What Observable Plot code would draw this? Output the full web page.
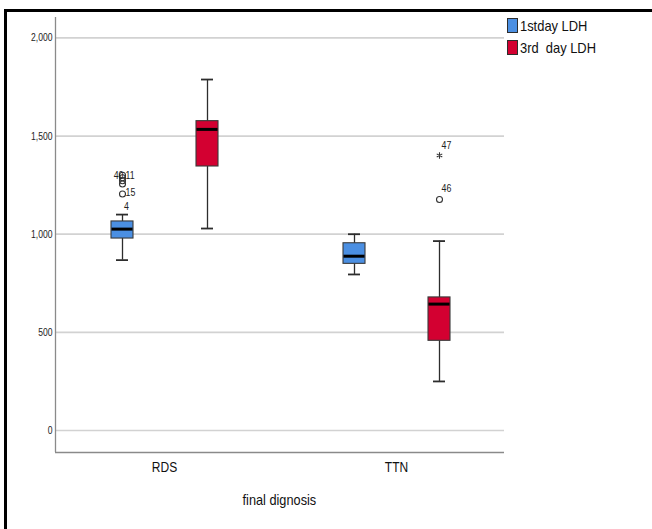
<!DOCTYPE html>
<html>
<head>
<meta charset="utf-8">
<script src="https://cdn.jsdelivr.net/npm/d3@7"></script>
<script src="https://cdn.jsdelivr.net/npm/@observablehq/plot@0.6"></script>
<style>
  html, body { margin: 0; padding: 0; background: #fff; }
  #wrap { position: relative; width: 652px; height: 529px; overflow: hidden; font-family: "Liberation Sans", Arial, sans-serif; }
  #border { position: absolute; left: 4px; top: 9px; width: 660px; height: 540px; border-left: 3px solid #000; border-top: 3px solid #000; }
  .layer { position: absolute; left: 0; top: 0; }
  #legend { position: absolute; left: 507px; top: 18px; font-size: 15px; color: #111; }
  .li { position: relative; height: 22px; }
  .sw { position: absolute; left: 0; top: 0; width: 9px; height: 13px; border: 1px solid #2d2d2d; }
  .lt { position: absolute; left: 13px; top: -1px; white-space: pre; transform: scaleX(0.86); transform-origin: 0 0; line-height: 17px; }
  #xlabel { position: absolute; left: 55px; width: 449px; top: 491px; text-align: center; font-size: 15px; color: #111; }
  #xlabel span { display: inline-block; transform: scaleX(0.85); }
</style>
</head>
<body>
<div id="wrap">
  <div id="border"></div>
  <div id="bg" class="layer"></div>
  <div id="fg" class="layer"></div>
  <div id="legend"></div>
  <div id="xlabel"><span></span></div>
</div>
<script>
// ---- data ----
const diagnoses = ["RDS", "TTN"];
const series = ["1stday LDH", "3rd  day LDH"];
const colors = ["#4b8fe2", "#d30031"];
const yTicks = [0, 500, 1000, 1500, 2000];
const xTitle = "final dignosis";

// per box, order: RDS-1st, RDS-3rd, TTN-1st, TTN-3rd
const boxDiag   = ["RDS", "RDS", "TTN", "TTN"];
const boxSeries = ["1stday LDH", "3rd  day LDH", "1stday LDH", "3rd  day LDH"];
const whiskerLow  = [868, 1029, 795, 250];
const q1          = [978, 1345, 849, 457];
const median      = [1026, 1534, 888, 644];
const q3          = [1065, 1576, 954, 678];
const whiskerHigh = [1100, 1788, 1000, 965];

// outliers (circles) and extremes (stars)
const outDiag   = ["RDS", "RDS", "RDS", "RDS", "RDS", "TTN"];
const outSeries = ["1stday LDH", "1stday LDH", "1stday LDH", "1stday LDH", "1stday LDH", "3rd  day LDH"];
const outValue  = [1300, 1288, 1272, 1256, 1205, 1177];
const extDiag = ["TTN"], extSeries = ["3rd  day LDH"], extValue = [1401];

// case labels
const labLeft  = {text: ["40"], diag: ["RDS"], ser: ["1stday LDH"], v: [1298]};
const labRight = {text: ["11", "15"], diag: ["RDS", "RDS"], ser: ["1stday LDH", "1stday LDH"], v: [1298, 1212]};
const labBelow = {text: ["4"], diag: ["RDS"], ser: ["1stday LDH"], v: [1141]};
const labAbove = {text: ["47", "46"], diag: ["TTN", "TTN"], ser: ["3rd  day LDH", "3rd  day LDH"], v: [1452, 1233]};

// ---- build tables ----
const boxes = boxDiag.map((d, i) => ({diag: d, ser: boxSeries[i], lo: whiskerLow[i], q1: q1[i], med: median[i], q3: q3[i], hi: whiskerHigh[i]}));
const outs = outDiag.map((d, i) => ({diag: d, ser: outSeries[i], v: outValue[i]}));
const exts = extDiag.map((d, i) => ({diag: d, ser: extSeries[i], v: extValue[i]}));
const tbl = (o) => o.text.map((t, i) => ({t, diag: o.diag[i], ser: o.ser[i], v: o.v[i]}));

const yMin = -112, yMax = 2104;
const font = '"Liberation Sans", Arial, sans-serif';

// condense svg text horizontally (narrow font look)
function condense(svg, k) {
  svg.querySelectorAll("text").forEach(t => {
    const tr = t.getAttribute("transform");
    if (tr) { t.setAttribute("transform", tr + ` scale(${k},1)`); }
    else {
      const x = +t.getAttribute("x") || 0, y = +t.getAttribute("y") || 0;
      t.removeAttribute("x"); t.removeAttribute("y");
      t.setAttribute("transform", `translate(${x},${y}) scale(${k},1)`);
    }
  });
}

// background layer: grid, axis lines, y tick labels
const bg = Plot.plot({
  width: 652, height: 480,
  marginLeft: 55, marginRight: 148, marginTop: 17, marginBottom: 28,
  style: {fontFamily: font, background: "transparent", overflow: "visible"},
  x: {domain: [0, 1], axis: null},
  y: {domain: [yMin, yMax], axis: null},
  marks: [
    Plot.ruleY(yTicks, {stroke: "#d2d2d2", strokeWidth: 1.7}),
    Plot.ruleY([yMin], {stroke: "#8a8a8a", strokeWidth: 1.3}),
    Plot.ruleX([0], {stroke: "#8a8a8a", strokeWidth: 1.3}),
    Plot.axisY({ticks: yTicks, tickSize: 0, tickPadding: 3, tickFormat: d3.format(","), fontSize: 11, fill: "#222", label: null})
  ]
});
condense(bg, 0.78);
document.getElementById("bg").appendChild(bg);

// foreground layer: boxes per diagnosis facet
const fg = Plot.plot({
  width: 652, height: 480,
  marginLeft: 55, marginRight: 133, marginTop: 17, marginBottom: 28,
  style: {fontFamily: font, background: "transparent", overflow: "visible"},
  fx: {domain: diagnoses, padding: 0, label: null, axis: null},
  x: {domain: series, paddingInner: 0.744, paddingOuter: 0.721, align: 0.4435, axis: null},
  y: {domain: [yMin, yMax], axis: null},
  color: {domain: series, range: colors},
  marks: [
    Plot.axisFx({anchor: "bottom", tickSize: 0, tickPadding: 9, fontSize: 15, fill: "#111", label: null, dx: -7}),
    Plot.ruleX(boxes, {fx: "diag", x: "ser", y1: "lo", y2: "hi", stroke: "#2d2d2d", strokeWidth: 1.3}),
    Plot.tickY(boxes, {fx: "diag", x: "ser", y: "lo", stroke: "#2d2d2d", strokeWidth: 1.8, insetLeft: 5, insetRight: 5}),
    Plot.tickY(boxes, {fx: "diag", x: "ser", y: "hi", stroke: "#2d2d2d", strokeWidth: 1.8, insetLeft: 5, insetRight: 5}),
    Plot.barY(boxes, {fx: "diag", x: "ser", y1: "q1", y2: "q3", fill: "ser", stroke: "#3a3a3a", strokeWidth: 1.1}),
    Plot.tickY(boxes, {fx: "diag", x: "ser", y: "med", stroke: "#000", strokeWidth: 3, insetLeft: 0.5, insetRight: 0.5}),
    Plot.dot(outs, {fx: "diag", x: "ser", y: "v", r: 3, stroke: "#333", strokeWidth: 1.1, fill: "none"}),
    Plot.dot(exts, {fx: "diag", x: "ser", y: "v", r: 3, symbol: "asterisk", stroke: "#333", strokeWidth: 1.1}),
    Plot.text(tbl(labLeft), {fx: "diag", x: "ser", y: "v", text: "t", dx: 1, textAnchor: "end", fontSize: 11, fill: "#222"}),
    Plot.text(tbl(labRight), {fx: "diag", x: "ser", y: "v", text: "t", dx: 3, textAnchor: "start", fontSize: 11, fill: "#222"}),
    Plot.text(tbl(labBelow), {fx: "diag", x: "ser", y: "v", text: "t", dx: 4, textAnchor: "middle", fontSize: 11, fill: "#222"}),
    Plot.text(tbl(labAbove), {fx: "diag", x: "ser", y: "v", text: "t", dx: 7, textAnchor: "middle", fontSize: 11, fill: "#222"})
  ]
});
condense(fg, 0.8);
document.getElementById("fg").appendChild(fg);

// legend
const lg = document.getElementById("legend");
series.forEach((s, i) => {
  const row = document.createElement("div");
  row.className = "li";
  const sw = document.createElement("span");
  sw.className = "sw";
  sw.style.background = colors[i];
  const t = document.createElement("span");
  t.className = "lt";
  t.textContent = s;
  row.appendChild(sw); row.appendChild(t);
  lg.appendChild(row);
});
document.querySelector("#xlabel span").textContent = xTitle;
</script>
</body>
</html>
